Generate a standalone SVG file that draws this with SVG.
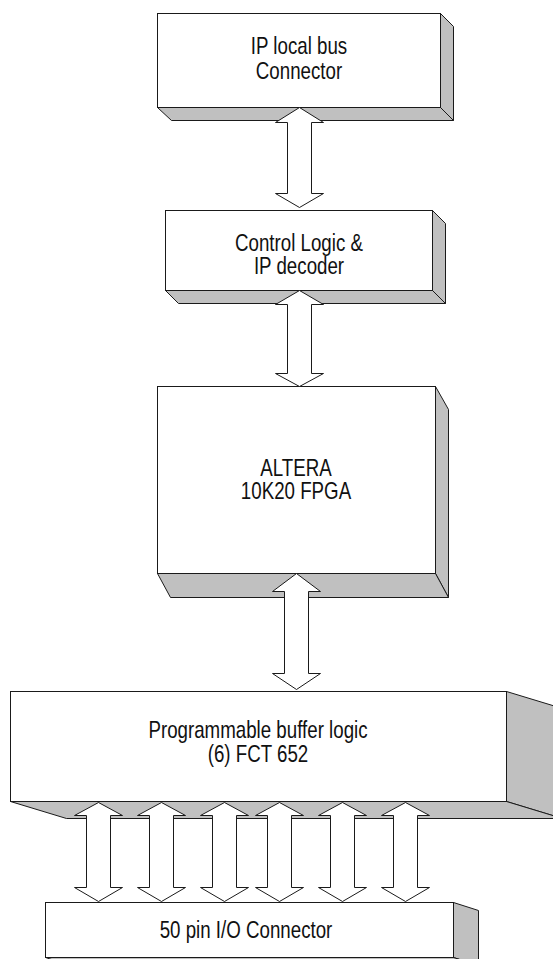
<svg xmlns="http://www.w3.org/2000/svg" xmlns:xlink="http://www.w3.org/1999/xlink" width="553" height="959" viewBox="0 0 553 959">
<style>
.front{fill:#ffffff;stroke:#1a1a1a;stroke-width:1}
.side{fill:#c0c0c0;stroke:#1a1a1a;stroke-width:1;stroke-linejoin:miter}
.arrow{fill:#ffffff;stroke:#1a1a1a;stroke-width:1;stroke-linejoin:miter}
.lbl{font-family:"Liberation Sans",Arial,sans-serif;font-size:24px;fill:#111;text-anchor:middle}
</style>
<defs>
<path id="busArrow" class="arrow" d="M0,802 L24,815 L12,815 L12,887 L24,887 L0,901 L-24,887 L-12,887 L-12,815 L-24,815 Z"/>
</defs>
<rect width="553" height="959" fill="#ffffff"/>

<g id="ip-connector">
<polygon class="side" points="440.5,13.5 453.5,26.5 453.5,120.5 440.5,107.5"/>
<polygon class="side" points="157.5,107.5 440.5,107.5 453.5,120.5 171.5,120.5"/>
<rect class="front" x="157.5" y="13.5" width="283" height="94"/>
<g transform="translate(299 0) scale(0.78 1)">
<text class="lbl" x="0" y="54">IP local bus</text>
<text class="lbl" x="0" y="79">Connector</text>
</g>
</g>

<g id="control-logic">
<polygon class="side" points="432.5,210.5 445.5,223.5 445.5,303.5 432.5,290.5"/>
<polygon class="side" points="165.5,290.5 432.5,290.5 445.5,303.5 178.5,303.5"/>
<rect class="front" x="165.5" y="210.5" width="267" height="80"/>
<g transform="translate(299 0) scale(0.78 1)">
<text class="lbl" x="0" y="251">Control Logic &amp;</text>
<text class="lbl" x="0" y="274">IP decoder</text>
</g>
</g>

<g id="fpga">
<polygon class="side" points="435.5,386.5 448.5,409.5 448.5,597.5 435.5,573.5"/>
<polygon class="side" points="157.5,573.5 435.5,573.5 448.5,597.5 170.5,597.5"/>
<rect class="front" x="157.5" y="386.5" width="278" height="187"/>
<g transform="translate(296 0) scale(0.78 1)">
<text class="lbl" x="0" y="476">ALTERA</text>
<text class="lbl" x="0" y="499">10K20 FPGA</text>
</g>
</g>

<g id="buffer-logic">
<polygon class="side" points="506.5,691.5 562.5,708.5 562.5,818.5 506.5,801.5"/>
<polygon class="side" points="10.5,801.5 506.5,801.5 562.5,818.5 66.5,818.5"/>
<rect class="front" x="10.5" y="691.5" width="496" height="110"/>
<g transform="translate(258 0) scale(0.78 1)">
<text class="lbl" x="0" y="738">Programmable buffer logic</text>
<text class="lbl" x="0" y="762">(6) FCT 652</text>
</g>
</g>

<g id="io-connector">
<polygon class="side" points="453.5,902.5 478.5,910.5 478.5,965.5 453.5,957.5"/>
<polygon class="side" points="45.5,957.5 453.5,957.5 478.5,965.5 70.5,965.5"/>
<rect class="front" x="45.5" y="902.5" width="408" height="55"/>
<g transform="translate(246 0) scale(0.78 1)">
<text class="lbl" x="0" y="938">50 pin I/O Connector</text>
</g>
</g>

<g id="connectors">
<polygon class="arrow" points="299.5,107.5 323.5,122.5 311.5,122.5 311.5,193.5 323.5,193.5 299.5,207.5 275.5,193.5 287.5,193.5 287.5,122.5 275.5,122.5"/>
<polygon class="arrow" points="299.5,290.5 323.5,304.5 311.5,304.5 311.5,373.5 323.5,373.5 299.5,386.5 275.5,373.5 287.5,373.5 287.5,304.5 275.5,304.5"/>
<polygon class="arrow" points="296.5,573.5 320.5,591.5 308.5,591.5 308.5,673.5 320.5,673.5 296.5,689.5 272.5,673.5 284.5,673.5 284.5,591.5 272.5,591.5"/>
<use xlink:href="#busArrow" href="#busArrow" x="98.5" y="0.5"/>
<use xlink:href="#busArrow" href="#busArrow" x="161.5" y="0.5"/>
<use xlink:href="#busArrow" href="#busArrow" x="224.5" y="0.5"/>
<use xlink:href="#busArrow" href="#busArrow" x="279.5" y="0.5"/>
<use xlink:href="#busArrow" href="#busArrow" x="342.5" y="0.5"/>
<use xlink:href="#busArrow" href="#busArrow" x="405.5" y="0.5"/>
</g>
</svg>
